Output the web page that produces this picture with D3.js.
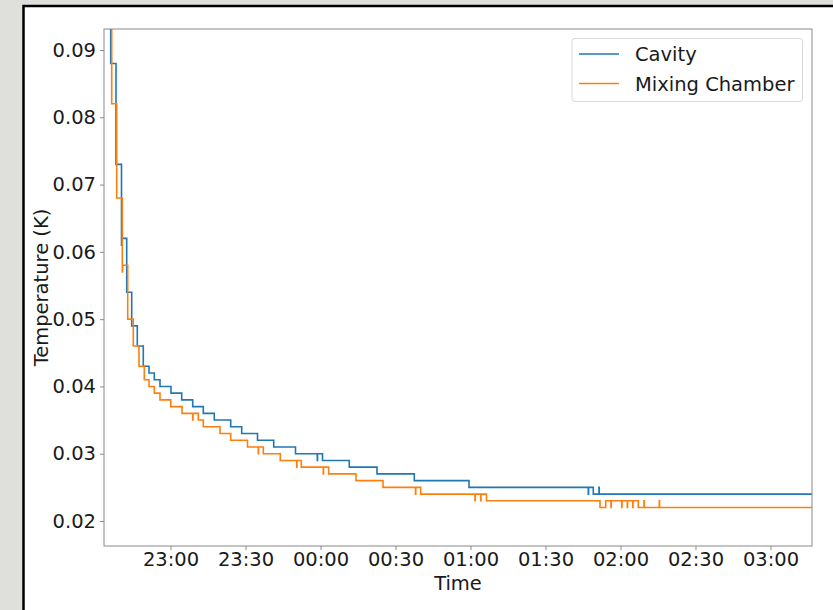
<!DOCTYPE html>
<html>
<head>
<meta charset="utf-8">
<script src="https://cdn.jsdelivr.net/npm/d3@7"></script>
<style>
  html, body { margin: 0; padding: 0; background: #dfdfdb; }
  svg { display: block; }
  text { font-family: "DejaVu Sans", sans-serif; fill: #1a1a1a; }
</style>
</head>
<body>
<svg id="chart" width="833" height="610"></svg>
<script>
// Cryostat cooldown log: cavity and mixing chamber temperatures (K)
const cavityTimes = [
  "22:36:00","22:36:05","22:38:12","22:40:24","22:40:30","22:42:29","22:44:29","22:46:43",
  "22:49:07","22:51:24","22:53:31","22:55:48","23:00:12","23:04:29","23:08:53","23:13:07",
  "23:17:31","23:24:05","23:28:29","23:34:48","23:41:17","23:50:00","23:58:43","23:58:49",
  "00:00:48","00:11:31","00:22:36","00:37:31","00:59:24","01:47:07","01:47:13","01:49:07",
  "01:51:24","01:51:30","03:17:00"
];
const cavityTemps = [
  0.095,0.088,0.073,0.061,0.062,0.054,0.049,0.046,
  0.043,0.042,0.041,0.040,0.039,0.038,0.037,0.036,
  0.035,0.034,0.033,0.032,0.031,0.030,0.029,0.030,
  0.029,0.028,0.027,0.026,0.025,0.024,0.025,0.024,
  0.025,0.024,0.024
];

const mixingTimes = [
  "22:36:00","22:36:29","22:38:29","22:40:43","22:40:49","22:42:53","22:45:07","22:47:24",
  "22:49:31","22:51:24","22:53:31","22:55:48","23:00:05","23:04:36","23:08:53","23:08:59",
  "23:11:07","23:13:07","23:19:48","23:24:05","23:30:48","23:35:07","23:35:13","23:37:07",
  "23:43:55","23:50:29","23:50:35","23:52:19","00:01:07","00:01:13","00:03:17","00:14:12",
  "00:25:00","00:38:00","00:38:06","00:40:05","01:01:48","01:01:54","01:04:05","01:04:11",
  "01:06:24","01:51:48","01:54:05","01:56:12","01:56:18","02:00:29","02:00:35","02:02:43",
  "02:02:49","02:04:53","02:04:59","02:07:07","02:09:24","02:09:30","02:15:31","02:15:37",
  "03:17:00"
];
const mixingTemps = [
  0.095,0.082,0.068,0.057,0.058,0.050,0.046,0.043,
  0.041,0.040,0.039,0.038,0.037,0.036,0.035,0.036,
  0.035,0.034,0.033,0.032,0.031,0.030,0.031,0.030,
  0.029,0.028,0.029,0.028,0.027,0.028,0.027,0.026,
  0.025,0.024,0.025,0.024,0.023,0.024,0.023,0.024,
  0.023,0.022,0.023,0.022,0.023,0.022,0.023,0.022,
  0.023,0.022,0.023,0.022,0.023,0.022,0.023,0.022,
  0.022
];

const seriesNames = ["Cavity", "Mixing Chamber"];
const seriesColors = ["#1f77b4", "#ff7f0e"];

const xTickLabels = ["23:00","23:30","00:00","00:30","01:00","01:30","02:00","02:30","03:00"];
const yTickValues = [0.02, 0.03, 0.04, 0.05, 0.06, 0.07, 0.08, 0.09];
const xDomainLabels = ["22:33:24", "03:16:36"];
const yDomain = [0.016285, 0.09312];

// Evening clock times belong to the first day, early-morning times to the next.
const parseFull = d3.timeParse("%Y-%m-%d %H:%M:%S");
function toDate(hms) {
  const h = +hms.slice(0, 2);
  return parseFull((h >= 12 ? "2023-01-01 " : "2023-01-02 ") + (hms.length === 5 ? hms + ":00" : hms));
}

const series = [
  cavityTimes.map((t, i) => ({ t: toDate(t), v: cavityTemps[i] })),
  mixingTimes.map((t, i) => ({ t: toDate(t), v: mixingTemps[i] }))
];

const W = 833, H = 610;
const plot = { left: 104, top: 29, right: 812, bottom: 546 };

const svg = d3.select("#chart");

// page frame
svg.append("rect").attr("x", 0).attr("y", 0).attr("width", W).attr("height", H).attr("fill", "#dfdfdb");
svg.append("rect").attr("x", 23.5).attr("y", 6).attr("width", 900).attr("height", 700)
  .attr("fill", "#ffffff").attr("stroke", "#000").attr("stroke-width", 2.5);

const x = d3.scaleTime()
  .domain(xDomainLabels.map(toDate))
  .range([plot.left, plot.right]);
const y = d3.scaleLinear()
  .domain(yDomain)
  .range([plot.bottom, plot.top]);

svg.append("clipPath").attr("id", "plot-clip")
  .append("rect")
  .attr("x", plot.left).attr("y", plot.top)
  .attr("width", plot.right - plot.left).attr("height", plot.bottom - plot.top);

// temperature traces
const line = d3.line()
  .x(d => x(d.t))
  .y(d => y(d.v))
  .curve(d3.curveStepAfter);

svg.append("g").attr("clip-path", "url(#plot-clip)")
  .selectAll("path")
  .data(series)
  .join("path")
  .attr("d", line)
  .attr("fill", "none")
  .attr("stroke", (d, i) => seriesColors[i])
  .attr("stroke-width", 1.6)
  .attr("stroke-linejoin", "miter");

// axes
const fmtX = d3.timeFormat("%H:%M");
const xAxis = d3.axisBottom(x)
  .tickValues(xTickLabels.map(toDate))
  .tickFormat(fmtX)
  .tickSize(4)
  .tickPadding(2);
const yAxis = d3.axisLeft(y)
  .tickValues(yTickValues)
  .tickFormat(d3.format(".2f"))
  .tickSize(4)
  .tickPadding(4);

const gx = svg.append("g").attr("transform", `translate(0,${plot.bottom})`).call(xAxis);
const gy = svg.append("g").attr("transform", `translate(${plot.left},0)`).call(yAxis);
[gx, gy].forEach(g => {
  g.select(".domain").remove();
  g.selectAll(".tick line").attr("stroke", "#8a8a8a").attr("stroke-width", 1);
  g.selectAll(".tick text").attr("font-size", 19.5).attr("fill", "#1a1a1a")
    .attr("font-family", "DejaVu Sans, sans-serif");
});

// plot frame
svg.append("rect")
  .attr("x", plot.left).attr("y", plot.top)
  .attr("width", plot.right - plot.left).attr("height", plot.bottom - plot.top)
  .attr("fill", "none").attr("stroke", "#8a8a8a").attr("stroke-width", 1);

// axis titles
svg.append("text")
  .attr("x", (plot.left + plot.right) / 2).attr("y", 590)
  .attr("text-anchor", "middle").attr("font-size", 19.5)
  .text("Time");
svg.append("text")
  .attr("transform", `translate(48,${(plot.top + plot.bottom) / 2}) rotate(-90)`)
  .attr("text-anchor", "middle").attr("font-size", 19.5)
  .text("Temperature (K)");

// legend
const lg = svg.append("g");
lg.append("rect")
  .attr("x", 572).attr("y", 38.5).attr("width", 230.5).attr("height", 63)
  .attr("rx", 3).attr("fill", "#fff").attr("fill-opacity", 0.8)
  .attr("stroke", "#d9d9d9").attr("stroke-width", 1);
seriesNames.forEach((name, i) => {
  const yy = 54 + i * 29.5;
  lg.append("line")
    .attr("x1", 579).attr("x2", 619).attr("y1", yy).attr("y2", yy)
    .attr("stroke", seriesColors[i]).attr("stroke-width", 1.5);
  lg.append("text")
    .attr("x", 635).attr("y", yy + 7)
    .attr("font-size", 19.5)
    .text(name);
});
</script>
</body>
</html>
